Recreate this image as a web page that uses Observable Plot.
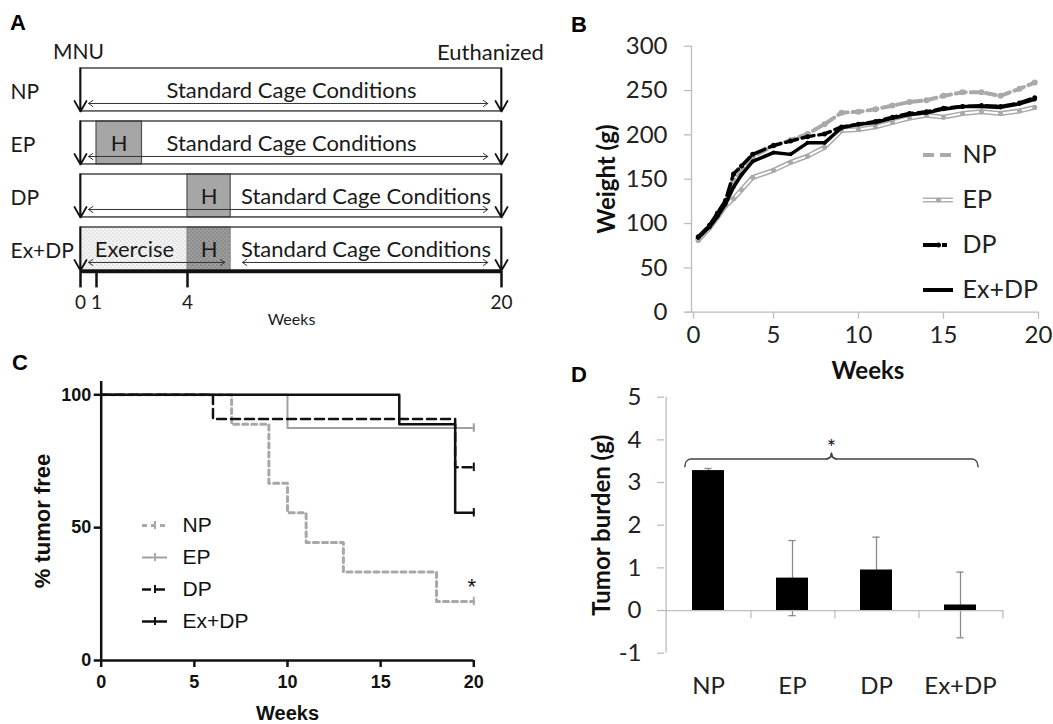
<!DOCTYPE html>
<html><head><meta charset="utf-8">
<script src="https://cdn.jsdelivr.net/npm/d3@7"></script>
<script src="https://cdn.jsdelivr.net/npm/@observablehq/plot@0.6"></script>
<style>
html,body{margin:0;padding:0;background:#fff;overflow:hidden}
#fig{position:relative;width:1053px;height:724px;background:#fff}
.lbl{position:absolute;font:bold 22px "Liberation Sans",Arial,sans-serif;line-height:1;color:#000}
</style></head><body>
<svg width="0" height="0" style="position:absolute">
<defs>
<pattern id="stippleLight" width="4" height="4" patternUnits="userSpaceOnUse"><rect width="4" height="4" fill="#f3f3f3"/><circle cx="1" cy="1" r="0.6" fill="#b5b5b5"/><circle cx="3" cy="3" r="0.6" fill="#c5c5c5"/></pattern>
<pattern id="stippleDark" width="4" height="4" patternUnits="userSpaceOnUse"><rect width="4" height="4" fill="#9c9c9c"/><circle cx="1" cy="1" r="0.7" fill="#707070"/><circle cx="3" cy="3" r="0.7" fill="#7a7a7a"/></pattern>
</defs></svg>
<div id="fig">
<div class="lbl" style="left:10px;top:12px">A</div>
<div class="lbl" style="left:571px;top:14px">B</div>
<div class="lbl" style="left:12px;top:352px">C</div>
<div class="lbl" style="left:571px;top:364px">D</div>
</div>
<script>
// ---------- DATA ----------
// Panel A: study design timeline (weeks)
const rowsA = ["NP", "EP", "DP", "Ex+DP"];
const studyStart = 0, studyEnd = 20;
const timelineTicks = [0, 1, 4, 20];
const hRows = ["EP", "DP", "Ex+DP"];
const hStart = [1, 4, 4];
const hEnd = [2.5, 6.2, 6.2];
const exRows = ["Ex+DP"];
const exStart = [0];
const exEnd = [4];
const spanRows = ["NP", "EP", "DP", "Ex+DP", "Ex+DP"];
const spanStart = [0.5, 0.5, 0.5, 0.5, 6.8];
const spanEnd = [19.3, 19.3, 19.3, 5.9, 19.3];
const cageLabelWeek = [9.3, 9.3, 13.1, 13.1];
const exerciseLabelWeek = 2.25;

// Panel B: body weight (g) by week
const weeksB = [0.3, 1, 1.5, 2, 2.5, 3, 3.7, 5, 6, 7, 8, 9, 10, 11, 12, 13, 14, 15, 16, 17, 18, 19, 19.8];
const weightNP   = [83, 97, 110, 124, 148, 160, 175, 188, 194, 201, 212, 225, 226, 229, 233, 237, 239, 244, 248, 248, 244, 252, 259];
const weightEP   = [81, 95, 107, 120, 128, 138, 152, 160, 169, 176, 186, 205, 206, 209, 214, 219, 222, 220, 224, 226, 224, 227, 231];
const weightDP   = [85, 98, 112, 126, 156, 165, 178, 188, 193, 198, 201, 209, 212, 215, 220, 224, 226, 230, 232, 233, 232, 236, 242];
const weightExDP = [84, 96, 108, 122, 141, 155, 170, 180, 178, 191, 191, 208, 212, 214, 219, 223, 225, 229, 232, 232, 231, 235, 240];
const weightTicks = [0, 50, 100, 150, 200, 250, 300];
const weekTicksB = [0, 5, 10, 15, 20];

// Panel C: Kaplan-Meier % tumor free
const kmNP_t = [0, 7, 9, 10, 11, 13, 18, 20];
const kmNP_s = [100, 88.9, 66.7, 55.6, 44.4, 33.3, 22.2, 22.2];
const kmEP_t = [0, 10, 20];
const kmEP_s = [100, 87.5, 87.5];
const kmDP_t = [0, 6, 19, 20];
const kmDP_s = [100, 90.9, 72.7, 72.7];
const kmEx_t = [0, 16, 19, 20];
const kmEx_s = [100, 88.9, 55.6, 55.6];
const pctTicks = [0, 50, 100];
const weekTicksC = [0, 5, 10, 15, 20];
const sigC = {t: 20, s: 27.5};

// Panel D: tumor burden (g)
const groupsD = ["NP", "EP", "DP", "Ex+DP"];
const burdenMean = [3.28, 0.76, 0.95, 0.13];
const burdenErr = [0.05, 0.88, 0.77, 0.77];
const burdenTicks = [-1, 0, 1, 2, 3, 4, 5];
const bracketFrom = "NP", bracketTo = "Ex+DP", bracketLevel = 3.55, sigD = 3.81;

const legendNames = ["NP", "EP", "DP", "Ex+DP"];

// ---------- DRAW ----------
const fig = document.getElementById("fig");
const W = 1053, H = 724;
const place = el => { el.style.position = "absolute"; el.style.left = "0px"; el.style.top = "0px"; fig.appendChild(el); };
const frame = (l, t, r, b) => ({width: W, height: H, marginLeft: l, marginTop: t, marginRight: W - r, marginBottom: H - b});
const st = (o = {}) => Object.assign({background: "transparent", overflow: "visible", fontFamily: "Lato, sans-serif", fontSize: "21px", color: "#1a1a1a"}, o);

// ---- Panel A ----
const BOX = 0.81;
const yA = d => rowsA.indexOf(d);
const hData = hRows.map((g, i) => ({g, s: hStart[i], e: hEnd[i]}));
const exData = exRows.map((g, i) => ({g, s: exStart[i], e: exEnd[i]}));
const spanData = spanRows.map((g, i) => ({g, s: spanStart[i], e: spanEnd[i], m: (spanStart[i] + spanEnd[i]) / 2}));
place(Plot.plot({
  ...frame(10, 68, 501, 280),
  style: st(),
  x: {type: "linear", domain: [0, 1, 4, 20], range: [80, 96, 187, 501], axis: null},
  y: {type: "linear", domain: [0, 4], range: [68, 280], axis: null},
  marks: [
    Plot.rect(exData, {x1: "s", x2: "e", y1: d => yA(d.g), y2: d => yA(d.g) + BOX, fill: "url(#stippleLight)"}),
    Plot.rect(hData.filter(d => d.g !== "Ex+DP"), {x1: "s", x2: "e", y1: d => yA(d.g), y2: d => yA(d.g) + BOX, fill: "#a6a6a6", stroke: "#505050", strokeWidth: 1.2}),
    Plot.rect(hData.filter(d => d.g === "Ex+DP"), {x1: "s", x2: "e", y1: d => yA(d.g), y2: d => yA(d.g) + BOX, fill: "url(#stippleDark)", stroke: "#808080", strokeWidth: 1}),
    Plot.rect(rowsA, {x1: () => studyStart, x2: () => studyEnd, y1: yA, y2: d => yA(d) + BOX, fill: "none", stroke: "#3a3a3a", strokeWidth: 1.4}),
    Plot.arrow(rowsA, {x1: () => studyStart, x2: () => studyStart, y1: yA, y2: d => yA(d) + BOX, headLength: 10, headAngle: 60, stroke: "#111", strokeWidth: 1.8}),
    Plot.arrow(rowsA, {x1: () => studyEnd, x2: () => studyEnd, y1: yA, y2: d => yA(d) + BOX, headLength: 10, headAngle: 60, stroke: "#111", strokeWidth: 1.8}),
    Plot.arrow(spanData, {x1: "m", x2: "s", y1: d => yA(d.g) + 0.66, y2: d => yA(d.g) + 0.66, headLength: 8, headAngle: 70, stroke: "#333", strokeWidth: 1}),
    Plot.arrow(spanData, {x1: "m", x2: "e", y1: d => yA(d.g) + 0.66, y2: d => yA(d.g) + 0.66, headLength: 8, headAngle: 70, stroke: "#333", strokeWidth: 1}),
    Plot.text(rowsA, {x: (d, i) => cageLabelWeek[i], y: d => yA(d) + 0.42, text: () => "Standard Cage Conditions", fontSize: 22}),
    Plot.text(hData, {x: d => (d.s + d.e) / 2, y: d => yA(d.g) + 0.42, text: () => "H", fontSize: 22}),
    Plot.text(exData, {x: () => exerciseLabelWeek, y: d => yA(d.g) + 0.42, text: () => "Exercise", fontSize: 22}),
    Plot.text(rowsA, {frameAnchor: "left", y: d => yA(d) + 0.45, text: d => d, textAnchor: "start", fontSize: 21}),
    Plot.ruleY([3.83], {x1: studyStart, x2: studyEnd, stroke: "#111", strokeWidth: 3.5}),
    Plot.ruleX(timelineTicks, {x: d => d, y1: 3.83, y2: 4.14, stroke: "#111", strokeWidth: 2.5}),
    Plot.text(timelineTicks, {x: d => d, y: 4.42, text: d => String(d), fontSize: 19}),
    Plot.text(["Weeks"], {x: 9.3, y: 4.75, fontSize: 16}),
    Plot.text(["MNU"], {x: studyStart, y: -0.3, dx: -2, fontSize: 21}),
    Plot.text(["Euthanized"], {x: studyEnd, y: -0.3, dx: -11, fontSize: 22})
  ]
}));

// ---- Panel B ----
const ptsB = w => weeksB.map((t, i) => ({t, w: w[i]}));
place(Plot.plot({
  ...frame(691, 45.7, 1038, 311.7),
  style: st({color: "#222"}),
  x: {type: "linear", domain: [0, 5, 10, 15, 20], range: [693, 773, 858, 943, 1038], axis: null},
  y: {domain: [0, 300], axis: null},
  marks: [
    Plot.ruleX([0], {y1: 0, y2: 300, dx: -2, stroke: "#bdbdbd", strokeWidth: 1.3}),
    Plot.ruleY([0], {x1: -0.45, x2: 20, stroke: "#bdbdbd", strokeWidth: 1.3}),
    Plot.axisY({ticks: weightTicks, tickSize: 7, tickPadding: 17, stroke: "#bdbdbd", strokeWidth: 1.3, label: null, fontSize: 24}),
    Plot.axisX({ticks: weekTicksB, tickSize: 7, tickPadding: 7, stroke: "#bdbdbd", strokeWidth: 1.3, label: null, fontSize: 24}),
    Plot.text(["Weight (g)"], {frameAnchor: "left", textAnchor: "middle", lineAnchor: "middle", rotate: -90, dx: -84, fontWeight: "bold", fontSize: 24, fill: "#111"}),
    Plot.text(["Weeks"], {frameAnchor: "bottom", lineAnchor: "middle", dy: 59, dx: 3, fontWeight: "bold", fontSize: 24, fill: "#111"}),
    Plot.line(ptsB(weightEP), {x: "t", y: "w", stroke: "#a9a9a9", strokeWidth: 5}),
    Plot.line(ptsB(weightEP), {x: "t", y: "w", stroke: "#fff", strokeWidth: 2}),
    Plot.dot(ptsB(weightEP), {x: "t", y: "w", r: 2.5, fill: "#a9a9a9"}),
    Plot.line(ptsB(weightNP), {x: "t", y: "w", stroke: "#a9a9a9", strokeWidth: 4, strokeDasharray: "10,5"}),
    Plot.dot(ptsB(weightNP), {x: "t", y: "w", r: 3, fill: "#a9a9a9"}),
    Plot.line(ptsB(weightDP), {x: "t", y: "w", stroke: "#000", strokeWidth: 3.5, strokeDasharray: "12,5"}),
    Plot.dot(ptsB(weightDP), {x: "t", y: "w", r: 2.5, fill: "#000"}),
    Plot.line(ptsB(weightExDP), {x: "t", y: "w", stroke: "#000", strokeWidth: 3.5}),
    Plot.dot(ptsB(weightExDP), {x: "t", y: "w", r: 2, fill: "#000"})
  ]
}));
// legend B
place(Plot.plot({
  ...frame(923, 130, 953, 313),
  style: st({color: "#222"}),
  x: {domain: [0, 1], axis: null},
  y: {type: "band", domain: legendNames, padding: 0, axis: null},
  marks: [
    Plot.ruleY(["NP"], {x1: 0, x2: 1, stroke: "#a9a9a9", strokeWidth: 4, strokeDasharray: "11,6"}),
    Plot.ruleY(["EP"], {x1: 0, x2: 1, stroke: "#b0b0b0", strokeWidth: 5}),
    Plot.ruleY(["EP"], {x1: 0, x2: 1, stroke: "#fff", strokeWidth: 2}),
    Plot.dot(["EP"], {x: 0.5, y: d => d, r: 2.5, fill: "#a9a9a9"}),
    Plot.ruleY(["DP"], {x1: 0, x2: 1, stroke: "#000", strokeWidth: 4, strokeDasharray: "14,5,5,8"}),
    Plot.dot(["DP"], {x: 0.5, y: d => d, r: 2.5, fill: "#000"}),
    Plot.ruleY(["Ex+DP"], {x1: 0, x2: 1, stroke: "#000", strokeWidth: 4}),
    Plot.dot(["Ex+DP"], {x: 0.5, y: d => d, r: 2, fill: "#000"}),
    Plot.text(legendNames, {x: 1, y: d => d, dx: 9, textAnchor: "start", fontSize: 25})
  ]
}));

// ---- Panel C ----
const km = (t, s) => t.map((x, i) => ({t: x, s: s[i]}));
const last = (t, s) => ({t: t[t.length - 1], s: s[s.length - 1]});
const fontC = "'Liberation Sans', Arial, sans-serif";
place(Plot.plot({
  ...frame(100.7, 381, 473.3, 660),
  style: st({fontFamily: fontC, color: "#111"}),
  x: {domain: [0, 20], axis: null},
  y: {domain: [0, 105], axis: null},
  marks: [
    Plot.line(km(kmNP_t, kmNP_s), {x: "t", y: "s", curve: "step-after", stroke: "#a8a8a8", strokeWidth: 3, strokeDasharray: "5,4"}),
    Plot.line(km(kmEP_t, kmEP_s), {x: "t", y: "s", curve: "step-after", stroke: "#a0a0a0", strokeWidth: 2}),
    Plot.line(km(kmDP_t, kmDP_s), {x: "t", y: "s", curve: "step-after", stroke: "#111", strokeWidth: 2.5, strokeDasharray: "9,5"}),
    Plot.line(km(kmEx_t, kmEx_s), {x: "t", y: "s", curve: "step-after", stroke: "#111", strokeWidth: 2.5}),
    Plot.ruleX([last(kmNP_t, kmNP_s)], {x: "t", y1: d => d.s - 1.6, y2: d => d.s + 1.6, stroke: "#a8a8a8", strokeWidth: 2}),
    Plot.ruleX([last(kmEP_t, kmEP_s)], {x: "t", y1: d => d.s - 1.6, y2: d => d.s + 1.6, stroke: "#a0a0a0", strokeWidth: 2}),
    Plot.ruleX([last(kmDP_t, kmDP_s)], {x: "t", y1: d => d.s - 1.6, y2: d => d.s + 1.6, stroke: "#111", strokeWidth: 2}),
    Plot.ruleX([last(kmEx_t, kmEx_s)], {x: "t", y1: d => d.s - 1.6, y2: d => d.s + 1.6, stroke: "#111", strokeWidth: 2}),
    Plot.ruleX([0], {y1: 0, y2: 105, stroke: "#111", strokeWidth: 2.5}),
    Plot.ruleY([0], {x1: 0, x2: 20, stroke: "#111", strokeWidth: 2.5}),
    Plot.axisY({ticks: pctTicks, tickSize: 7, tickPadding: 3, strokeWidth: 2.5, label: null, fontSize: 18, fontWeight: "bold"}),
    Plot.axisX({ticks: weekTicksC, tickSize: 7, tickPadding: 8, strokeWidth: 2.5, label: null, fontSize: 18, fontWeight: "bold"}),
    Plot.text(["% tumor free"], {frameAnchor: "left", textAnchor: "middle", lineAnchor: "middle", rotate: -90, dx: -58, fontWeight: "bold", fontSize: 22}),
    Plot.text(["Weeks"], {frameAnchor: "bottom", lineAnchor: "middle", dy: 53, fontWeight: "bold", fontSize: 20}),
    Plot.text([sigC], {x: "t", y: "s", text: () => "*", fontSize: 22, dx: -2})
  ]
}));
// legend C
place(Plot.plot({
  ...frame(142, 509, 167, 637),
  style: st({fontFamily: fontC, color: "#111"}),
  x: {domain: [0, 1], axis: null},
  y: {type: "band", domain: legendNames, padding: 0, axis: null},
  marks: [
    Plot.ruleY(["NP"], {x1: 0, x2: 1, stroke: "#a8a8a8", strokeWidth: 3, strokeDasharray: "5,4"}),
    Plot.ruleY(["EP"], {x1: 0, x2: 1, stroke: "#a0a0a0", strokeWidth: 2}),
    Plot.ruleY(["DP"], {x1: 0, x2: 1, stroke: "#111", strokeWidth: 2.5, strokeDasharray: "9,5"}),
    Plot.ruleY(["Ex+DP"], {x1: 0, x2: 1, stroke: "#111", strokeWidth: 2.5}),
    Plot.tickX(["NP", "EP"], {x: 0.5, y: d => d, insetTop: 12, insetBottom: 12, stroke: "#a8a8a8", strokeWidth: 2}),
    Plot.tickX(["DP", "Ex+DP"], {x: 0.5, y: d => d, insetTop: 12, insetBottom: 12, stroke: "#111", strokeWidth: 2}),
    Plot.text(legendNames, {x: 1, y: d => d, dx: 15, textAnchor: "start", fontSize: 21})
  ]
}));

// ---- Panel D ----
const bw = (1003 - 664) / groupsD.length;
place(Plot.plot({
  ...frame(664, 396.7, 1003, 652.7),
  style: st({color: "#222"}),
  x: {type: "band", domain: groupsD, padding: 0, axis: null},
  y: {domain: [-1, 5], axis: null},
  marks: [
    Plot.ruleX([0], {x: () => groupsD[0], y1: -1, y2: 5, dx: -bw / 2, stroke: "#bdbdbd", strokeWidth: 1.3}),
    Plot.ruleX(groupsD, {x: d => d, y1: (d, i) => burdenMean[i] - burdenErr[i], y2: (d, i) => burdenMean[i] + burdenErr[i], stroke: "#8a8a8a", strokeWidth: 1.3}),
    Plot.tickY(groupsD, {x: d => d, y: (d, i) => burdenMean[i] + burdenErr[i], insetLeft: bw / 2 - 4, insetRight: bw / 2 - 4, stroke: "#8a8a8a", strokeWidth: 1.3}),
    Plot.tickY(groupsD, {x: d => d, y: (d, i) => burdenMean[i] - burdenErr[i], insetLeft: bw / 2 - 4, insetRight: bw / 2 - 4, stroke: "#8a8a8a", strokeWidth: 1.3}),
    Plot.barY(groupsD, {x: d => d, y: (d, i) => burdenMean[i], fill: "#000", insetLeft: 26, insetRight: 26}),
    Plot.ruleY([0], {stroke: "#bdbdbd", strokeWidth: 1.3}),
    Plot.ruleX(groupsD, {x: d => d, y1: 0, y2: -0.19, dx: bw / 2, stroke: "#bdbdbd", strokeWidth: 1.3}),
    Plot.axisY({ticks: burdenTicks, tickSize: 7, tickPadding: 16, stroke: "#bdbdbd", strokeWidth: 1.3, tickFormat: d => String(d), label: null, fontSize: 24}),
    Plot.axisX({tickSize: 0, tickPadding: 24, label: null, fontSize: 24}),
    Plot.text(["Tumor burden (g)"], {frameAnchor: "left", textAnchor: "middle", lineAnchor: "middle", rotate: -90, dx: -62, fontWeight: "bold", fontSize: 24, fill: "#111"})
  ]
}));
// significance bracket D (same pixel mapping, category index units)
const i0 = groupsD.indexOf(bracketFrom) + 0.24, i1 = groupsD.indexOf(bracketTo) + 0.70, im = (i0 + i1) / 2;
const yb = bracketLevel;
const bracket = [[i0, yb - 0.18], [i0 + 0.015, yb - 0.06], [i0 + 0.07, yb], [im - 0.06, yb], [im - 0.01, yb + 0.05], [im, yb + 0.14], [im + 0.01, yb + 0.05], [im + 0.06, yb], [i1 - 0.07, yb], [i1 - 0.015, yb - 0.06], [i1, yb - 0.18]].map(([x, y]) => ({x, y}));
place(Plot.plot({
  ...frame(664, 396.7, 1003, 652.7),
  style: st({color: "#222"}),
  x: {domain: [0, groupsD.length], axis: null},
  y: {domain: [-1, 5], axis: null},
  marks: [
    Plot.line(bracket, {x: "x", y: "y", curve: "monotone-x", stroke: "#444", strokeWidth: 1.4}),
    Plot.line(bracket.slice(3, 8), {x: "x", y: "y", stroke: "#444", strokeWidth: 1.4}),
    Plot.text([{x: im, y: sigD}], {x: "x", y: "y", text: () => "*", fontSize: 22, fill: "#111"})
  ]
}));
</script>
</body></html>
